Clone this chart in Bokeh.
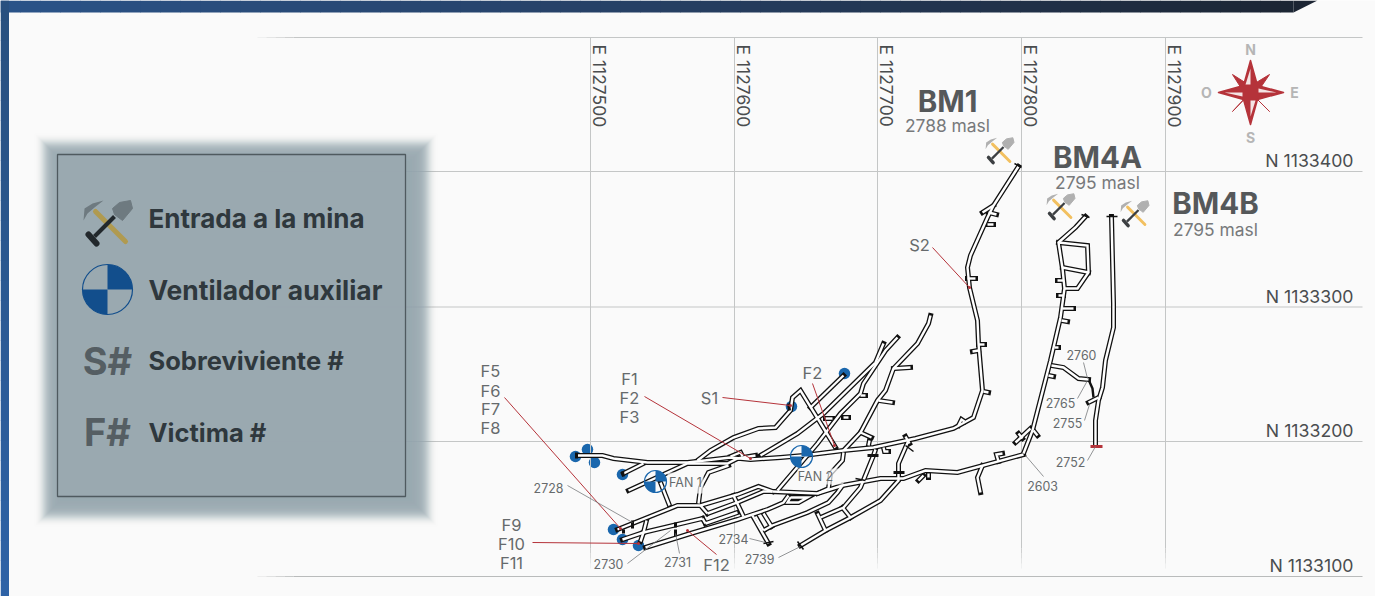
from bokeh.plotting import figure
from bokeh.models import Range1d
from bokeh.embed import file_html
from bokeh.resources import INLINE
from bokeh.core.properties import value
import math

# ---------- map data (in map units) ----------
east_labels = ["E 1127500", "E 1127600", "E 1127700", "E 1127800", "E 1127900"]
east_pos = [590, 734, 877, 1021, 1165]
north_labels = ["N 1133400", "N 1133300", "N 1133200", "N 1133100"]
north_pos = [171, 306.5, 441, 576]

tunnels = [
    [(1018,166),(993,205),(987,217),(970,255),(967,267),(969,287),(977,320),(978,343),(982,390),(973,417),(953,428),(915,438),(873,447),(843,450),(803,455),(780,457),(750,459),(730,457),(687,462),(647,462),(613,458),(602,455),(577,455)],
    [(993,205),(982,212)], [(988,212),(996,214)], [(987,224),(993,224)], [(967,278),(975,278)],
    [(972,351),(978,350)], [(978,344),(984,344)], [(983,391),(988,392)], [(958,425),(961,419),(964,421)],
    [(1085,216),(1075,227),(1058,242),(1062,268),(1064,288),(1060,317),(1050,360),(1032,430),(1023,453)],
    [(1058,242),(1087,245),(1088,272),(1077,288),(1064,288)], [(1062,267),(1088,272)],
    [(1057,280),(1063,280)], [(1058,295),(1063,295)], [(1062,308),(1073,308)], [(1061,320),(1067,321)],
    [(1054,347),(1058,347)], [(1048,375),(1053,376)],
    [(1051,365),(1063,367),(1078,378),(1088,379)],
    [(1111,216),(1113,303),(1113,327),(1105,360),(1102,387),(1098,400),(1095,420),(1095,445)],
    [(1098,397),(1088,402)],
    [(1030,428),(1015,442)], [(1018,433),(1022,438)], [(1033,430),(1037,435)],
    [(1023,454),(957,472),(925,470),(903,478),(880,478),(842,485),(817,493),(772,491)],
    [(998,461),(996,454),(1002,453)], [(982,465),(977,477),(980,492)], [(923,475),(918,480)], [(928,473),(928,477)],
    [(777,490),(817,443),(840,413),(860,393),(863,383),(885,350),(897,337)],
    [(760,455),(797,433),(823,413),(875,362),(883,343)],
    [(810,407),(843,375)],
    [(697,460),(710,450),(733,437),(758,428),(775,427),(790,410),(792,397),(800,390),(835,447)],
    [(843,450),(860,432),(877,400),(885,390),(893,368),(917,343),(928,323),(930,315)],
    [(893,368),(910,367)], [(878,400),(892,402)], [(860,432),(871,437)], [(860,395),(865,395)],
    [(825,418),(832,418)], [(843,417),(848,417)], [(868,445),(869,440)], [(883,447),(884,451),(888,451)],
    [(843,452),(842,460),(830,473),(828,488),(817,493)],
    [(875,449),(873,455),(860,487),(843,507),(820,517)],
    [(908,440),(898,463),(898,480),(880,500),(850,517),(825,530),(800,545)],
    [(905,436),(909,443)],
    [(763,530),(772,525),(807,512),(828,502),(837,492),(842,485)],
    [(817,513),(825,530)], [(842,507),(850,517)],
    [(790,497),(787,502),(798,502),(807,497),(790,497)],
    [(617,529),(677,505),(700,505),(737,494),(758,486),(772,491)],
    [(707,513),(737,502),(763,491),(772,491)],
    [(643,532),(702,518)],
    [(622,539),(643,532)],
    [(705,523),(737,512)],
    [(645,547),(690,533),(737,519),(752,514),(767,509),(783,502),(788,495)],
    [(700,505),(707,513)], [(733,495),(743,516)], [(646,520),(643,532),(640,541)], [(702,518),(705,523)],
    [(752,515),(768,543)], [(763,513),(771,526)], [(755,516),(763,530)],
    [(628,490),(687,463),(727,463),(737,458),(755,455)],
    [(623,473),(643,463)],
    [(660,482),(669,505)],
    [(698,503),(700,487),(708,472),(728,465)],
    [(730,456),(740,452),(742,456)],
]
thin_tunnels = [[(1088,379),(1092,388),(1093,397)]]

black_caps = [
    [(1014,163),(1021,167)], [(1081,214),(1089,217)], [(1106,216),(1117,216)],
    [(855,478),(865,480)], [(905,445),(913,451)], [(797,541),(803,549)], [(763,543),(773,541)],
]
thick_caps = [
    [(632,520),(632,528)], [(623,529),(623,533)], [(675,522),(675,527)], [(675,529),(675,536)],
    [(867,455),(878,455)], [(893,472),(904,472)], [(576,452),(576,458)], [(622,471),(623,476)], [(788,403),(789,410)],
]
red_cap = [(1090,446),(1102,446)]

dots_x = [575, 587, 594, 622, 613, 622, 638, 844, 791]
dots_y = [456, 449, 462, 474, 529, 539, 545, 373, 406]
fans_x = [655, 801]
fans_y = [481, 456]

red_leaders = [
    [(504,397),(620,528)], [(644,396),(750,458)], [(722,397),(790,405)], [(812,383),(834,445)],
    [(932,247),(969,287)], [(532,542),(638,543)], [(716,554),(687,530)],
]
grey_leaders = [
    [(567,485),(632,522)], [(627,563),(670,530)], [(679,553),(675,533)], [(749,538),(765,542)],
    [(778,557),(800,546)], [(1043,476),(1025,455)], [(1083,362),(1087,378)], [(1077,398),(1087,380)],
    [(1084,420),(1089,404)], [(1087,460),(1095,446)],
]

big_labels = ["S2","F5","F6","F7","F8","F1","F2","F3","S1","F2","F9","F10","F11","F12"]
big_x = [919,490,490,490,490,629,629,629,709,812,511,511,511,716]
big_y = [244,370,390,408,427,378,397,416,397,372,524,543,562,564]
small_labels = ["2728","2730","2731","2734","2739","2760","2765","2755","2752","2603"]
small_x = [548,608,677,733,759,1081,1060,1067,1070,1042]
small_y = [487,563,561,538,558,354,402,422,461,485]

mines = ["BM1","BM4A","BM4B"]
mine_x = [947,1097,1215]
mine_y = [100,156,202]
masl = ["2788 masl","2795 masl","2795 masl"]
masl_x = [947,1097,1215]
masl_y = [125,182,229]
icon_cx = [999,1060,1134]
icon_cy = [150,206,213]

legend_texts = ["Entrada a la mina","Ventilador auxiliar","Sobreviviente #","Victima #"]
legend_y = [218,289,360,432]
legend_sizes = [26,26.4,25.5,25.5]

# icon shapes relative to the icon's centre
shovel_head = [(23,-22),(25,-14),(15,-2),(7,-8),(5,-14),(12,-20)]
pick_head = [(-24,-2),(-23,-14),(-15,-19),(-4,-22),(-13,-15),(-20,-9)]
pick_handle = [(-12,-11),(18,19)]
shovel_handle = [(7,-6),(-13,14)]
shovel_grip = [(-19,12),(-11,21)]

star_main = [(1250,60),(1257,85),(1283,92),(1257,99),(1250,124),(1243,99),(1218,92),(1243,85)]
star_diag = [
    [(1232,74),(1254,88),(1246,96)], [(1269,74),(1254,96),(1246,88)],
    [(1269,111),(1246,88),(1254,96)], [(1232,111),(1246,96),(1254,88)],
]
star_white = [
    [(1250,68),(1250,84),(1245,84)], [(1276,92),(1258,92),(1258,88)],
    [(1250,116),(1250,100),(1255,100)], [(1224,92),(1242,92),(1242,96)],
]

INK = "#111111"; GREY = "#666a6c"; RED = "#b5333a"; BLUE = "#1a67ad"
F = "Inter"

p = figure(width=1375, height=596, x_range=Range1d(0, 1375), y_range=Range1d(596, 0),
           toolbar_location=None, output_backend="svg", min_border=0,
           background_fill_color="#fafafa", border_fill_color="#fafafa", outline_line_color=None)
p.axis.visible = False
p.grid.visible = False


def xs(lines):
    return [[q[0] for q in l] for l in lines]


def ys(lines):
    return [[q[1] for q in l] for l in lines]


def txt(t, x, y, size, color=GREY, style="normal", align="center", font=F, angle=0):
    p.text([x], [y], text=[t], text_font=value(font), text_font_size=f"{size}px", text_color=color,
           text_font_style=style, text_align=align, text_baseline="middle", angle=angle)


def mix(c1, c2, t):
    return "#%02x%02x%02x" % tuple(round(a + (b - a) * t) for a, b in zip(c1, c2))


# page frame: the dark band on top and the blue band on the left
top_stops = [(0, (42, 83, 136)), (650, (38, 63, 99)), (1293, (28, 37, 51))]
for i in range(65):
    x0, x1 = i * 20, min((i + 1) * 20 + 0.5, 1293)
    if x0 >= 1293:
        break
    (a, ca), (b, cb) = (top_stops[0], top_stops[1]) if x0 < 650 else (top_stops[1], top_stops[2])
    p.quad(left=[x0], right=[x1], top=[0], bottom=[12], fill_color=mix(ca, cb, (x0 - a) / (b - a)), line_color=None)
p.patch([1293, 1317, 1293], [0, 0, 12], fill_color="#1c2533", line_color=None)
for i in range(30):
    y0, y1 = i * 20, (i + 1) * 20
    p.quad(left=[0], right=[8.5], top=[y0], bottom=[y1 + 0.5],
           fill_color=mix((41, 80, 127), (46, 98, 166), i / 29), line_color=None)

# grid: fading starts on the left / bottom
GRID = "#c4c6c6"
top_edge, bottom_edge = 37, 576
for y in [top_edge] + north_pos:
    col = "#b9bbbb" if y == bottom_edge else GRID
    p.line([300, 1362], [y, y], line_color=col, line_width=1)
    for k in range(5):
        p.line([257 + k * 9, 257 + (k + 1) * 9], [y, y], line_color=col, line_width=1, line_alpha=0.2 * (k + 1))
for x in east_pos:
    p.line([x, x], [top_edge, 548], line_color=GRID, line_width=1)
    for k in range(5):
        p.line([x, x], [548 + k * 5, 548 + (k + 1) * 5], line_color=GRID, line_alpha=1 - 0.2 * (k + 1))

# legend panel with a soft shadow
for k in range(14, -15, -1):
    w = math.exp(-(k / 5.5) ** 2 / 2) * 0.2
    p.quad(left=[48 - k], right=[423 + k], top=[147 - k], bottom=[512 + k],
           fill_color="#97a7af", fill_alpha=1 - math.exp(-w), line_color=None)
p.quad(left=[57], right=[405], top=[154], bottom=[496], fill_color="#9aa9b0", fill_alpha=0.9,
       line_color="#4f5a5f", line_width=1.3)

# tunnels
p.multi_line(xs(tunnels), ys(tunnels), line_color=INK, line_width=5, line_join="miter", line_cap="square")
p.multi_line(xs(thin_tunnels), ys(thin_tunnels), line_color=INK, line_width=2.4)
p.multi_line(xs(tunnels), ys(tunnels), line_color="white", line_width=2.4, line_join="miter", line_cap="butt")
p.multi_line(xs(black_caps), ys(black_caps), line_color=INK, line_width=1.5)
p.multi_line(xs(thick_caps), ys(thick_caps), line_color=INK, line_width=3)
p.line([q[0] for q in red_cap], [q[1] for q in red_cap], line_color=RED, line_width=3)

# leaders
p.multi_line(xs(red_leaders), ys(red_leaders), line_color=RED, line_width=1)
p.multi_line(xs(grey_leaders), ys(grey_leaders), line_color="#777a7c", line_width=0.8)
p.scatter([q[-1][0] for q in red_leaders], [q[-1][1] for q in red_leaders], size=3, marker="circle",
          fill_color=RED, line_color=None)


# fans
def fan(cx, cy, r, dark, lite, edge):
    p.wedge(cx, cy, radius=r, start_angle=0, end_angle=6.2832, fill_color=lite, fill_alpha=1, line_color=None)
    for a in (0, 3.1416):
        p.wedge(cx, cy, radius=r, start_angle=a, end_angle=a + 1.5708, fill_color=dark, line_color=None)
    p.circle(cx, cy, radius=r, fill_color=None, line_color=edge, line_width=1.2)


for cx, cy in zip(fans_x, fans_y):
    fan(cx, cy, 11, BLUE, "#f4f7fa", BLUE)
fan(107, 289, 25, "#124e8c", "#a3b1b8", "#124e8c")

# blue dots
p.scatter(dots_x, dots_y, size=11.5, marker="circle", fill_color=BLUE, line_color=None, level="underlay")


# pick and shovel icons
def icon(cx, cy, s, head, gold, dark):
    def tr(pts):
        return [cx + q[0] * s for q in pts], [cy + q[1] * s for q in pts]
    px, py = tr(pick_handle)
    p.line(px, py, line_color=gold, line_width=5.0 * s, line_cap="round")
    px, py = tr(pick_head)
    p.patch(px, py, fill_color=head, line_color=None)
    px, py = tr(shovel_head)
    p.patch(px, py, fill_color=head, line_color=head, line_width=1)
    px, py = tr(shovel_handle)
    p.line(px, py, line_color=dark, line_width=4.0 * s)
    px, py = tr(shovel_grip)
    p.line(px, py, line_color=dark, line_width=6.0 * s, line_cap="round")


for cx, cy in zip(icon_cx, icon_cy):
    icon(cx, cy, 0.58, "#b0b0b0", "#f2c060", "#3c3f42")
icon(107, 222, 1.0, "#6e7a80", "#b09a50", "#22282c")

# compass
p.patches(xs(star_diag), ys(star_diag), fill_color=RED, line_color=RED, line_width=1)
p.patch([q[0] for q in star_main], [q[1] for q in star_main], fill_color=RED, line_color=RED, line_join="round", line_width=1.5)
p.patches(xs(star_white), ys(star_white), fill_color="#f4e4e4", line_color=None)
for t, x, y in [("N", 1250, 49), ("O", 1206, 92), ("E", 1294, 92), ("S", 1250, 137)]:
    txt(t, x, y, 14, "#b5b5b5", "bold")

# text
for t, x in zip(east_labels, east_pos):
    p.text([x + 9], [44], text=[t], text_font=value(F), text_font_size="17.5px", text_color="#4a4d4f",
           text_align="left", text_baseline="middle", angle=-1.5708)
for t, y in zip(north_labels, north_pos):
    txt(t, 1353, y - 11, 17.7, "#4a4d4f", align="right")
for t, x, y in zip(big_labels, big_x, big_y):
    txt(t, x, y, 16.5, GREY)
for t, x, y in zip(small_labels, small_x, small_y):
    txt(t, x, y, 12.4, GREY)
p.quad(left=[667, 797], right=[703, 843], top=[472, 468], bottom=[493, 484], fill_color="#fafafa", fill_alpha=0.7, line_color=None)
txt("FAN 1", 685, 482, 12.5, GREY)
txt("FAN 2", 815, 476, 12.5, GREY)
for t, x, y in zip(mines, mine_x, mine_y):
    txt(t, x, y, 29.5, "#55585a", "bold")
for t, x, y in zip(masl, masl_x, masl_y):
    txt(t, x, y, 17.4, "#77797b")
for t, y, s in zip(legend_texts, legend_y, legend_sizes):
    txt(t, 148, y, s, "#2f383d", "bold", align="left")
txt("S#", 107, 360, 38, "#555e63", "bold")
txt("F#", 107, 431, 38, "#555e63", "bold")

open("out.html", "w").write(file_html(p, INLINE))
